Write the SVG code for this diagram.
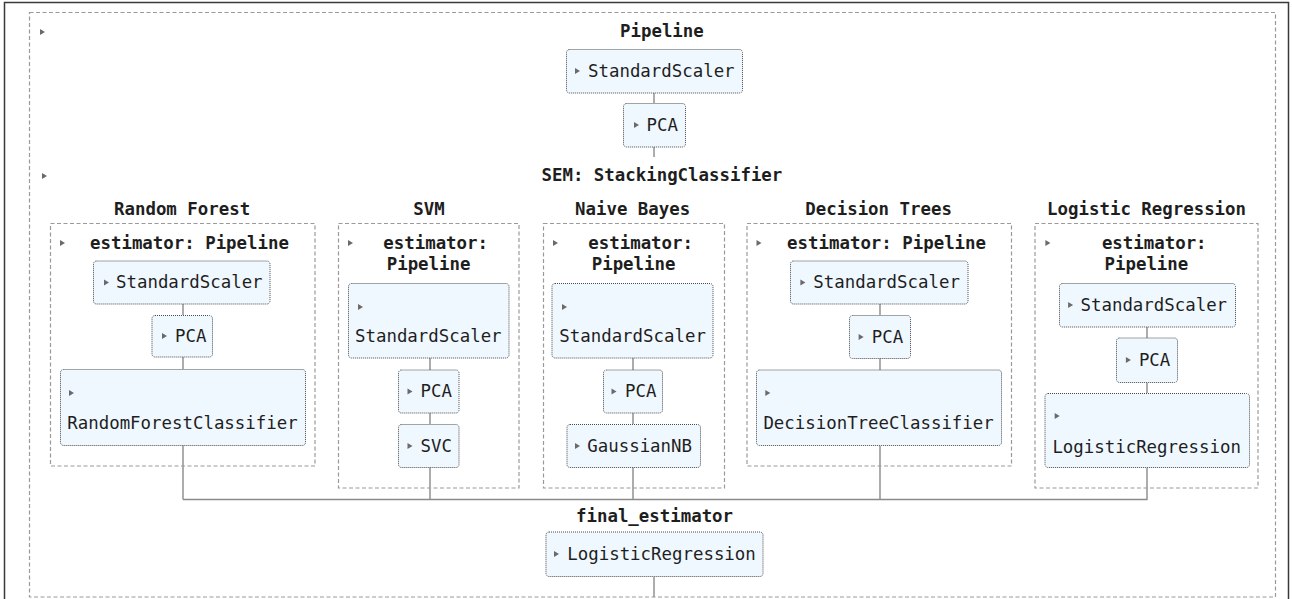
<svg xmlns="http://www.w3.org/2000/svg" width="1292" height="599" viewBox="0 0 1292 599">
  <defs>
    <style>
      .frame { fill: none; stroke: #3a3a3a; stroke-width: 1.5; }
      .dash { fill: none; stroke: #9a9a9a; stroke-width: 1.2; stroke-dasharray: 4 2.5; }
      .box { fill: #f0f8ff; stroke: #4a4a4a; stroke-width: 1; stroke-dasharray: 1 1; }
      .wire { fill: none; stroke: #8a8a8a; stroke-width: 1.4; }
      .t { font-family: "DejaVu Sans Mono", "Liberation Mono", monospace; font-size: 17.4px; fill: #1e1e1e; }
      .b { font-weight: bold; }
      .tri { fill: #6a6a6a; }
    </style>
    <path id="tri" class="tri" d="M0,-3 L5,0 L0,3 Z"/>
  </defs>

  <rect width="1292" height="599" fill="#ffffff"/>
  <!-- window frame -->
  <path class="frame" d="M4.5,600 V2.5 H1288.5 V600"/>

  <!-- outer pipeline -->
  <g id="pipeline">
    <rect class="dash" x="29.5" y="12.5" width="1246" height="584.5"/>
    <use href="#tri" x="40" y="32"/>
    <text class="t b" x="620" y="37">Pipeline</text>
  </g>

  <!-- connectors -->
  <g id="connectors">
    <path class="wire" d="M654,93 V103"/>
    <path class="wire" d="M654,147 V157"/>
    <!-- random forest -->
    <path class="wire" d="M183,304 V315 M183,357 V369 M183,445 V499.5"/>
    <!-- svm -->
    <path class="wire" d="M430,358 V370 M430,413 V424 M430,467 V499.5"/>
    <!-- naive bayes -->
    <path class="wire" d="M633,358 V370 M633,413 V424 M633,467 V499.5"/>
    <!-- decision trees -->
    <path class="wire" d="M880,304 V315 M880,358 V370 M880,446 V499.5"/>
    <!-- logistic regression -->
    <path class="wire" d="M1147,327 V338 M1147,383 V393 M1147,468 V499.5"/>
    <path class="wire" d="M183,499.5 H1147.5"/>
    <path class="wire" d="M654,577 V597"/>
  </g>

  <g id="scaler">
    <rect class="box" x="566.5" y="49.5" width="176" height="43.5" rx="3"/>
    <use href="#tri" x="575" y="71"/>
    <text class="t" x="588" y="76.5">StandardScaler</text>
  </g>
  <g id="pca">
    <rect class="box" x="623.5" y="103.5" width="62" height="43.5" rx="3"/>
    <use href="#tri" x="634" y="125"/>
    <text class="t" x="646.5" y="130.5">PCA</text>
  </g>

  <g id="stacking">
    <use href="#tri" x="42" y="176"/>
    <text class="t b" x="541.5" y="181">SEM: StackingClassifier</text>
  </g>

  <!-- Random Forest -->
  <g id="rf">
    <text class="t b" x="114" y="215">Random Forest</text>
    <rect class="dash" x="50.5" y="223.5" width="264.5" height="242.5"/>
    <use href="#tri" x="60" y="243"/>
    <text class="t b" x="90" y="249">estimator: Pipeline</text>
  </g>
  <g id="rf-scaler">
    <rect class="box" x="93.5" y="261" width="176.5" height="43" rx="3"/>
    <use href="#tri" x="104" y="282.5"/>
    <text class="t" x="116" y="288">StandardScaler</text>
  </g>
  <g id="rf-pca">
    <rect class="box" x="152" y="315.5" width="60.5" height="41.5" rx="3"/>
    <use href="#tri" x="162" y="336"/>
    <text class="t" x="175" y="341.5">PCA</text>
  </g>
  <g id="rf-clf">
    <rect class="box" x="60.5" y="369.5" width="245" height="76" rx="3"/>
    <use href="#tri" x="69" y="393"/>
    <text class="t" x="67.3" y="428.5">RandomForestClassifier</text>
  </g>

  <!-- SVM -->
  <g id="svm">
    <text class="t b" x="413.3" y="215">SVM</text>
    <rect class="dash" x="338.5" y="223.5" width="180.5" height="264.5"/>
    <use href="#tri" x="348" y="243"/>
    <text class="t b" x="383.3" y="249">estimator:</text>
    <text class="t b" x="386.7" y="270">Pipeline</text>
  </g>
  <g id="svm-scaler">
    <rect class="box" x="348.5" y="283.5" width="160.5" height="74.5" rx="3"/>
    <use href="#tri" x="358" y="307"/>
    <text class="t" x="355" y="342">StandardScaler</text>
  </g>
  <g id="svm-pca">
    <rect class="box" x="398.5" y="370" width="60.5" height="43" rx="3"/>
    <use href="#tri" x="407.5" y="391.5"/>
    <text class="t" x="420.5" y="397">PCA</text>
  </g>
  <g id="svm-clf">
    <rect class="box" x="398.5" y="424.5" width="60.5" height="43" rx="3"/>
    <use href="#tri" x="407.5" y="446"/>
    <text class="t" x="420.5" y="451.5">SVC</text>
  </g>

  <!-- Naive Bayes -->
  <g id="nb">
    <text class="t b" x="575" y="215">Naive Bayes</text>
    <rect class="dash" x="543.5" y="223.5" width="181" height="264.5"/>
    <use href="#tri" x="553" y="243"/>
    <text class="t b" x="588.3" y="249">estimator:</text>
    <text class="t b" x="591.7" y="270">Pipeline</text>
  </g>
  <g id="nb-scaler">
    <rect class="box" x="552" y="283.5" width="161" height="74.5" rx="3"/>
    <use href="#tri" x="562" y="307"/>
    <text class="t" x="559.3" y="342">StandardScaler</text>
  </g>
  <g id="nb-pca">
    <rect class="box" x="603.5" y="370" width="59" height="43" rx="3"/>
    <use href="#tri" x="611.5" y="391.5"/>
    <text class="t" x="625" y="397">PCA</text>
  </g>
  <g id="nb-clf">
    <rect class="box" x="567" y="424.5" width="133.5" height="43" rx="3"/>
    <use href="#tri" x="575" y="446"/>
    <text class="t" x="587.3" y="451.5">GaussianNB</text>
  </g>

  <!-- Decision Trees -->
  <g id="dt">
    <text class="t b" x="805.3" y="215">Decision Trees</text>
    <rect class="dash" x="747" y="223.5" width="264.5" height="242.5"/>
    <use href="#tri" x="756.5" y="243"/>
    <text class="t b" x="787.1" y="249">estimator: Pipeline</text>
  </g>
  <g id="dt-scaler">
    <rect class="box" x="790.5" y="261" width="177.5" height="43" rx="3"/>
    <use href="#tri" x="800.4" y="282.5"/>
    <text class="t" x="813.3" y="288">StandardScaler</text>
  </g>
  <g id="dt-pca">
    <rect class="box" x="849.5" y="315.5" width="61" height="43" rx="3"/>
    <use href="#tri" x="858.6" y="337"/>
    <text class="t" x="871.7" y="342.5">PCA</text>
  </g>
  <g id="dt-clf">
    <rect class="box" x="756.5" y="370" width="245" height="75.5" rx="3"/>
    <use href="#tri" x="765.3" y="393"/>
    <text class="t" x="763.4" y="428.5">DecisionTreeClassifier</text>
  </g>

  <!-- Logistic Regression -->
  <g id="lr">
    <text class="t b" x="1047.1" y="215">Logistic Regression</text>
    <rect class="dash" x="1035" y="223.5" width="223" height="264.5"/>
    <use href="#tri" x="1045.4" y="243"/>
    <text class="t b" x="1101.9" y="249">estimator:</text>
    <text class="t b" x="1104.5" y="270">Pipeline</text>
  </g>
  <g id="lr-scaler">
    <rect class="box" x="1059.5" y="283.5" width="176" height="43.5" rx="3"/>
    <use href="#tri" x="1068.1" y="305"/>
    <text class="t" x="1080.5" y="311">StandardScaler</text>
  </g>
  <g id="lr-pca">
    <rect class="box" x="1116.5" y="338" width="61" height="44.5" rx="3"/>
    <use href="#tri" x="1125.9" y="360"/>
    <text class="t" x="1138.9" y="366">PCA</text>
  </g>
  <g id="lr-clf">
    <rect class="box" x="1045" y="393.5" width="204.5" height="74" rx="3"/>
    <use href="#tri" x="1054.7" y="416"/>
    <text class="t" x="1052.4" y="453">LogisticRegression</text>
  </g>

  <!-- final estimator -->
  <g id="final">
    <text class="t b" x="576" y="522">final_estimator</text>
    <rect class="box" x="546" y="532" width="217" height="44.5" rx="3"/>
    <use href="#tri" x="554" y="554"/>
    <text class="t" x="567.3" y="559.5">LogisticRegression</text>
  </g>
</svg>
